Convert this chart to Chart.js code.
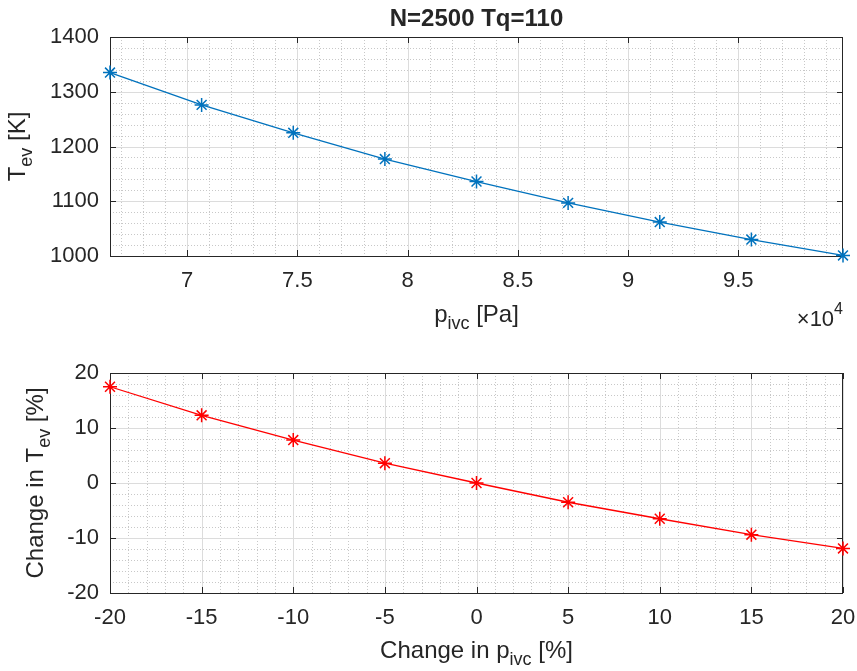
<!DOCTYPE html>
<html>
<head>
<meta charset="utf-8">
<script src="https://cdn.jsdelivr.net/npm/chart.js@4.4.0/dist/chart.umd.min.js"></script>
<style>
  html, body { margin: 0; padding: 0; background: #fff; }
  #wrap { position: relative; width: 857px; height: 671px; overflow: hidden; }
  #bot-box { position: absolute; left: 0; top: 335px; width: 857px; height: 336px; }
  #top-box { position: absolute; left: 0; top: 0; width: 857px; height: 350px; }
</style>
</head>
<body>
<div id="wrap">
  <div id="bot-box"><canvas id="bot-chart"></canvas></div>
  <div id="top-box"><canvas id="top-chart"></canvas></div>
</div>
<script>
// ===== Data =====
var pivcPa = [66500, 70656, 74813, 78969, 83125, 87281, 91438, 95594, 99750];
var tevK = [1335, 1276, 1225, 1177, 1136, 1097, 1062, 1030, 1001];
var pivcChangePct = [-20, -15, -10, -5, 0, 5, 10, 15, 20];
var tevChangePct = [17.5, 12.3, 7.8, 3.6, 0, -3.5, -6.5, -9.4, -11.9];

// tick labels
var pivcTicks = [70000, 75000, 80000, 85000, 90000, 95000];
var tevTicks = [1000, 1100, 1200, 1300, 1400];
var pivcChangeTicks = [-20, -15, -10, -5, 0, 5, 10, 15, 20];
var tevChangeTicks = [-20, -10, 0, 10, 20];

var FONT = '"Liberation Sans", Arial, Helvetica, sans-serif';
var INK = '#262626';

// draws a label made of pieces (normal / sub / sup text)
function drawRich(ctx, item) {
  ctx.save();
  ctx.translate(item.x, item.y);
  if (item.rot) ctx.rotate(item.rot);
  ctx.fillStyle = INK;
  ctx.textBaseline = 'alphabetic';
  ctx.textAlign = 'left';
  var w = 0;
  item.segs.forEach(function(s) {
    ctx.font = (s.bold ? 'bold ' : '') + s.size + 'px ' + FONT;
    s._w = ctx.measureText(s.t).width;
    w += s._w;
  });
  var x0 = item.align === 'right' ? -w : (item.align === 'left' ? 0 : -w / 2);
  item.segs.forEach(function(s) {
    ctx.font = (s.bold ? 'bold ' : '') + s.size + 'px ' + FONT;
    ctx.fillText(s.t, x0, s.dy || 0);
    x0 += s._w;
  });
  ctx.restore();
}

function isMajor(v, majors, step) {
  for (var i = 0; i < majors.length; i++) {
    if (Math.abs(v - majors[i]) < step * 1e-6) return true;
  }
  return false;
}

// MATLAB-like box, grid, minor grid and inward ticks
var matlabAxes = {
  id: 'matlabAxes',
  beforeDatasetsDraw: function(chart, args, o) {
    var ctx = chart.ctx, a = chart.chartArea;
    var xs = chart.scales.x, ys = chart.scales.y;
    var k, v, p;
    ctx.save();
    ctx.lineWidth = 1;

    // minor grid
    ctx.strokeStyle = '#c8c8c8';
    ctx.setLineDash([1, 2]);
    ctx.beginPath();
    for (k = Math.ceil(xs.min / o.xMinor - 1e-9); k * o.xMinor <= xs.max + 1e-9; k++) {
      v = k * o.xMinor;
      if (isMajor(v, o.xMajor, o.xMinor)) continue;
      p = Math.round(xs.getPixelForValue(v)) + 0.5;
      ctx.moveTo(p, a.top); ctx.lineTo(p, a.bottom);
    }
    for (k = Math.ceil(ys.min / o.yMinor - 1e-9); k * o.yMinor <= ys.max + 1e-9; k++) {
      v = k * o.yMinor;
      if (isMajor(v, o.yMajor, o.yMinor)) continue;
      p = Math.round(ys.getPixelForValue(v)) + 0.5;
      ctx.moveTo(a.left, p); ctx.lineTo(a.right, p);
    }
    ctx.stroke();

    // major grid
    ctx.setLineDash([]);
    ctx.strokeStyle = '#dcdcdc';
    ctx.beginPath();
    o.xMajor.forEach(function(v) {
      var p = Math.round(xs.getPixelForValue(v)) + 0.5;
      ctx.moveTo(p, a.top); ctx.lineTo(p, a.bottom);
    });
    o.yMajor.forEach(function(v) {
      var p = Math.round(ys.getPixelForValue(v)) + 0.5;
      ctx.moveTo(a.left, p); ctx.lineTo(a.right, p);
    });
    ctx.stroke();

    // ticks (inside, all four sides)
    var tl = 6;
    ctx.strokeStyle = INK;
    ctx.beginPath();
    o.xMajor.forEach(function(v) {
      var p = Math.round(xs.getPixelForValue(v)) + 0.5;
      ctx.moveTo(p, a.bottom); ctx.lineTo(p, a.bottom - tl);
      ctx.moveTo(p, a.top); ctx.lineTo(p, a.top + tl);
    });
    o.yMajor.forEach(function(v) {
      var p = Math.round(ys.getPixelForValue(v)) + 0.5;
      ctx.moveTo(a.left, p); ctx.lineTo(a.left + tl, p);
      ctx.moveTo(a.right, p); ctx.lineTo(a.right - tl, p);
    });
    ctx.stroke();

    // box
    ctx.strokeRect(Math.round(a.left) + 0.5, Math.round(a.top) + 0.5,
      Math.round(a.right - a.left) - 1, Math.round(a.bottom - a.top));
    ctx.restore();
  },
  afterDraw: function(chart, args, o) {
    (o.labels || []).forEach(function(item) { drawRich(chart.ctx, item); });
  }
};

function makeChart(canvasId, cfg) {
  var ctx = document.getElementById(canvasId).getContext('2d');
  var points = cfg.xs.map(function(x, i) { return { x: x, y: cfg.ys[i] }; });
  return new Chart(ctx, {
    type: 'scatter',
    data: {
      datasets: [{
        data: points,
        showLine: true,
        borderColor: cfg.color,
        backgroundColor: cfg.color,
        borderWidth: 1.3,
        pointStyle: 'star',
        pointRadius: 7,
        pointBorderWidth: 1.5,
        pointBorderColor: cfg.color,
        tension: 0,
        clip: false
      }]
    },
    options: {
      responsive: true,
      maintainAspectRatio: false,
      animation: false,
      events: [],
      layout: { padding: { top: cfg.padTop, right: 14, bottom: 0, left: 0 } },
      plugins: {
        legend: { display: false },
        tooltip: { enabled: false },
        matlabAxes: {
          xMajor: cfg.xTicks, yMajor: cfg.yTicks,
          xMinor: cfg.xMinor, yMinor: cfg.yMinor,
          labels: cfg.labels
        }
      },
      scales: {
        x: {
          type: 'linear', min: cfg.xMin, max: cfg.xMax,
          afterBuildTicks: function(s) { s.ticks = cfg.xTicks.map(function(v) { return { value: v }; }); },
          afterFit: function(s) {
            s.height = cfg.xAxisH;
            s.paddingLeft = 0; s.paddingRight = 0;
          },
          ticks: {
            callback: cfg.xFmt, autoSkip: false, maxRotation: 0, padding: 12,
            color: INK, font: { family: FONT, size: 22 }
          },
          grid: { color: 'transparent', drawTicks: false },
          border: { display: false }
        },
        y: {
          type: 'linear', min: cfg.yMin, max: cfg.yMax,
          afterBuildTicks: function(s) { s.ticks = cfg.yTicks.map(function(v) { return { value: v }; }); },
          afterFit: function(s) {
            s.width = 110;
            s.paddingTop = 0; s.paddingBottom = 0;
          },
          ticks: {
            callback: function(v) { return String(v); }, autoSkip: false, padding: 11,
            color: INK, font: { family: FONT, size: 22 }
          },
          grid: { color: 'transparent', drawTicks: false },
          border: { display: false }
        }
      }
    },
    plugins: [matlabAxes]
  });
}

// ===== top: T_ev over p_ivc =====
makeChart('top-chart', {
  xs: pivcPa, ys: tevK, color: '#0072BD',
  xMin: 66500, xMax: 99750, yMin: 1000, yMax: 1400,
  xTicks: pivcTicks, yTicks: tevTicks, xMinor: 1000, yMinor: 20,
  xFmt: function(v) { return String(v / 1e4); },
  padTop: 37, xAxisH: 350 - 37 - 219,
  labels: [
    { x: 476.5, y: 26, segs: [{ t: 'N=2500 Tq=110', size: 24, bold: true }] },
    { x: 476.5, y: 322, segs: [{ t: 'p', size: 24 }, { t: 'ivc', size: 18, dy: 7 }, { t: ' [Pa]', size: 24 }] },
    { x: 843, y: 326, align: 'right', segs: [{ t: '\u00d710', size: 22 }, { t: '4', size: 16, dy: -12 }] },
    { x: 25, y: 146.5, rot: -Math.PI / 2, segs: [{ t: 'T', size: 24 }, { t: 'ev', size: 18, dy: 7 }, { t: ' [K]', size: 24 }] }
  ]
});

// ===== bottom: relative change =====
makeChart('bot-chart', {
  xs: pivcChangePct, ys: tevChangePct, color: '#FF0000',
  xMin: -20, xMax: 20, yMin: -20, yMax: 20,
  xTicks: pivcChangeTicks, yTicks: tevChangeTicks, xMinor: 1, yMinor: 2,
  xFmt: function(v) { return String(v); },
  padTop: 38, xAxisH: 336 - 38 - 220,
  labels: [
    { x: 476.5, y: 323, segs: [{ t: 'Change in p', size: 24 }, { t: 'ivc', size: 18, dy: 7 }, { t: ' [%]', size: 24 }] },
    { x: 43, y: 148, rot: -Math.PI / 2, segs: [{ t: 'Change in T', size: 24 }, { t: 'ev', size: 18, dy: 7 }, { t: ' [%]', size: 24 }] }
  ]
});
</script>
</body>
</html>
